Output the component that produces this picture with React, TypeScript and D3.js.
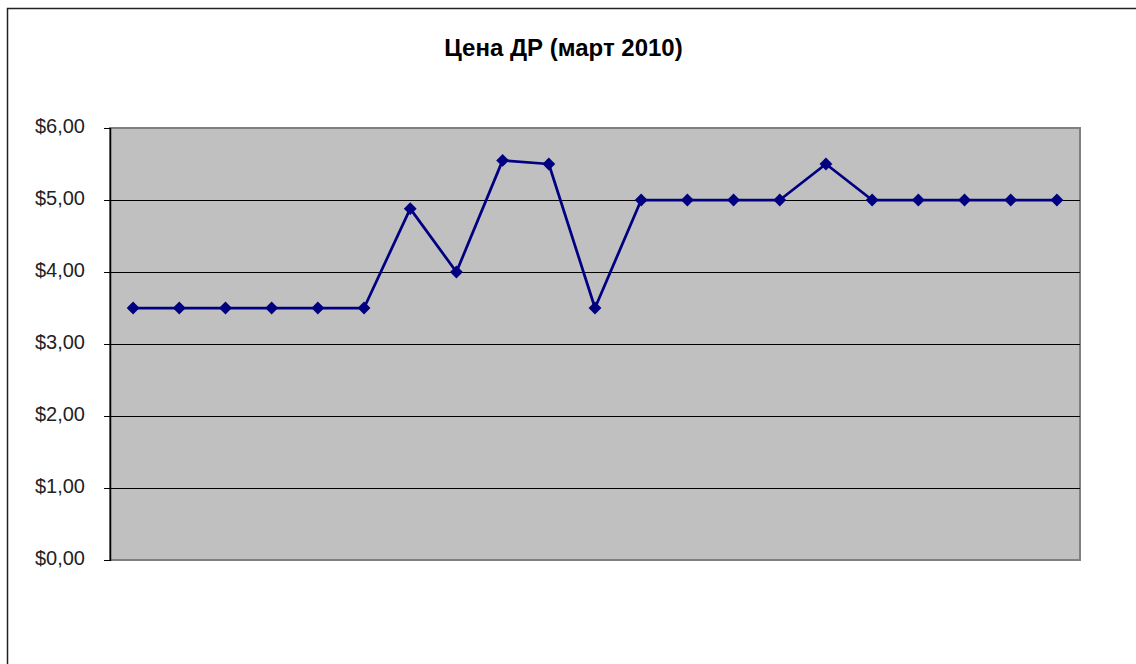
import React from 'react'
import * as d3 from 'd3'

const days = d3.range(1, 22).map(String)
const prices = [3.5, 3.5, 3.5, 3.5, 3.5, 3.5, 4.88, 4.0, 5.55, 5.5, 3.5, 5.0, 5.0, 5.0, 5.0, 5.5, 5.0, 5.0, 5.0, 5.0, 5.0]
const yTicks = [0, 1, 2, 3, 4, 5, 6]
const title = 'Цена ДР (март 2010)'

const W = 1136
const H = 664
const plot = { left: 110, right: 1080, top: 128, bottom: 560 }

export default function App() {
  const x = d3.scaleBand().domain(days).range([plot.left, plot.right])
  const y = d3.scaleLinear().domain([0, 6]).range([plot.bottom, plot.top])
  const cx = (d: string) => (x(d) ?? 0) + x.bandwidth() / 2

  const line = d3.line<number>()
    .x((_, i) => cx(days[i]))
    .y(v => y(v))

  // excel-ish diamond marker
  const diamond = d3.symbol().type(d3.symbolDiamond2).size(105)()

  return (
    <svg width={W} height={H} style={{ position: 'absolute', left: 0, top: 0 }} fontFamily="Arial, 'Liberation Sans', sans-serif">
      <rect x={0} y={0} width={W} height={H} fill="#fff" />
      <rect x={7.5} y={8.5} width={W + 10} height={H + 10} fill="none" stroke="#222" strokeWidth={1.5} />
      <text x={563.5} y={56} textAnchor="middle" fontSize={24} fontWeight="bold" fill="#000">{title}</text>

      <rect x={plot.left} y={plot.top} width={plot.right - plot.left} height={plot.bottom - plot.top}
        fill="#c0c0c0" stroke="#808080" strokeWidth={2} />

      {yTicks.map(t => (
        <g key={t}>
          {t > 0 && t < 6 && (
            <line x1={plot.left} x2={plot.right} y1={y(t) + 0.5} y2={y(t) + 0.5} stroke="#000" strokeWidth={1} />
          )}
          <line x1={plot.left - 6} x2={plot.left} y1={y(t) + 0.5} y2={y(t) + 0.5} stroke="#000" strokeWidth={1} />
          <text x={85} y={y(t) + 5} textAnchor="end" fontSize={20} fill="#222">
            {'$' + d3.format('.2f')(t).replace('.', ',')}
          </text>
        </g>
      ))}
      <line x1={plot.left + 0.5} x2={plot.left + 0.5} y1={plot.top} y2={plot.bottom + 1} stroke="#000" strokeWidth={1.5} />

      <path d={line(prices) ?? ''} fill="none" stroke="#000080" strokeWidth={2.75} strokeLinejoin="round" />
      {prices.map((v, i) => (
        <path key={i} d={diamond ?? ''} transform={`translate(${cx(days[i])},${y(v)})`} fill="#000080" />
      ))}
    </svg>
  )
}
